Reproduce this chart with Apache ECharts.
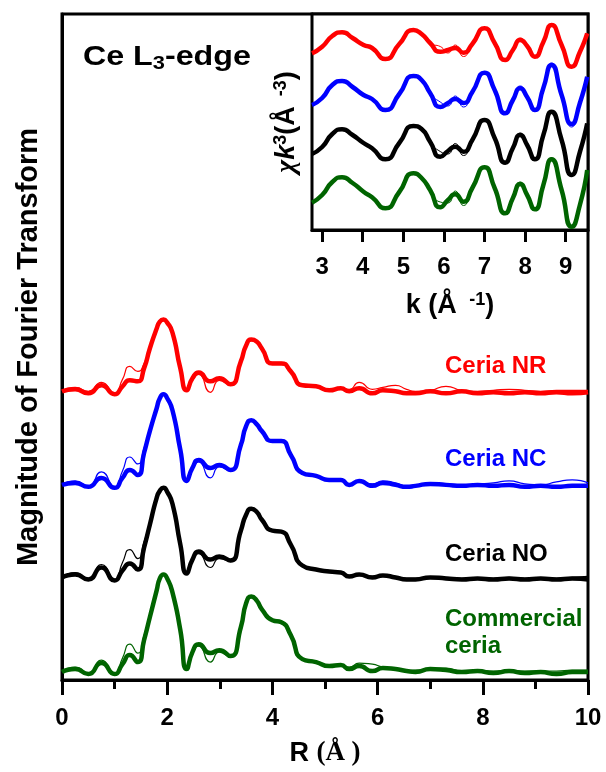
<!DOCTYPE html>
<html>
<head>
<meta charset="utf-8">
<script src="https://cdn.jsdelivr.net/npm/echarts@6/dist/echarts.min.js"></script>
<style>
  html, body { margin: 0; padding: 0; background: #fff; }
  #chart { width: 606px; height: 772px; }
</style>
</head>
<body>
<div id="chart"></div>
<script>
// R grid (Å) for the Fourier transform curves
var rGrid = [0, 0.25, 0.5, 0.75, 1.0, 1.15, 1.29, 1.44, 1.56, 1.67, 1.8, 1.86, 1.93, 2.0, 2.1, 2.25, 2.37, 2.48, 2.6, 2.82,
    2.99, 3.2, 3.4, 3.5, 3.6, 3.7, 3.8, 4.0, 4.17, 4.35, 4.57, 4.83, 5.08, 5.3, 5.46, 5.65, 5.9, 6.1, 6.34, 6.55,
    6.72, 7.0, 7.3, 7.6, 7.9, 8.2, 8.5, 8.8, 9.1, 9.4, 9.7, 10];

// stacked magnitudes (thick and thin line of every sample)
var nrBold = [2.90, 2.92, 2.88, 2.96, 2.87, 2.95, 3.01, 3.00, 3.13, 3.33, 3.53, 3.60, 3.62, 3.59, 3.49, 3.13, 2.91, 3.03, 3.09, 3.00,
    3.03, 2.97, 3.20, 3.36, 3.42, 3.40, 3.33, 3.18, 3.18, 3.10, 2.96, 2.95, 2.91, 2.93, 2.90, 2.93, 2.88, 2.91, 2.90, 2.88,
    2.88, 2.90, 2.88, 2.90, 2.88, 2.89, 2.88, 2.89, 2.88, 2.89, 2.88, 2.89];
var nrThin = [2.90, 2.94, 2.90, 2.99, 2.88, 3.02, 3.15, 3.10, 3.18, 3.34, 3.52, 3.59, 3.61, 3.58, 3.48, 3.12, 2.90, 3.01, 3.07, 2.89,
    3.01, 2.96, 3.19, 3.35, 3.41, 3.39, 3.33, 3.19, 3.19, 3.11, 2.97, 2.96, 2.92, 2.93, 2.92, 2.99, 2.92, 2.94, 2.96, 2.92,
    2.90, 2.91, 2.95, 2.91, 2.90, 2.91, 2.92, 2.91, 2.90, 2.91, 2.91, 2.91];
var ncBold = [1.96, 1.98, 1.94, 2.03, 1.93, 2.03, 2.11, 2.06, 2.28, 2.50, 2.73, 2.83, 2.87, 2.83, 2.71, 2.31, 2.00, 2.13, 2.21, 2.13,
    2.16, 2.11, 2.36, 2.55, 2.61, 2.57, 2.50, 2.40, 2.40, 2.26, 2.08, 2.05, 2.01, 2.01, 1.96, 2.00, 1.95, 1.98, 1.96, 1.94,
    1.95, 1.97, 1.96, 1.95, 1.96, 1.95, 1.96, 1.94, 1.95, 1.94, 1.95, 1.95];
var ncThin = [1.96, 2.00, 1.95, 2.09, 1.94, 2.10, 2.24, 2.17, 2.33, 2.51, 2.72, 2.82, 2.86, 2.82, 2.70, 2.30, 1.99, 2.11, 2.19, 2.03,
    2.14, 2.10, 2.35, 2.54, 2.60, 2.56, 2.50, 2.41, 2.41, 2.27, 2.09, 2.05, 2.02, 2.01, 1.97, 1.99, 1.97, 2.00, 1.98, 1.95,
    1.96, 1.97, 1.97, 1.96, 1.97, 1.98, 2.00, 1.97, 1.96, 1.99, 2.01, 1.98];
var noBold = [1.03, 1.06, 1.01, 1.13, 1.00, 1.10, 1.17, 1.11, 1.33, 1.56, 1.83, 1.90, 1.93, 1.89, 1.77, 1.36, 1.07, 1.21, 1.29, 1.21,
    1.24, 1.20, 1.50, 1.66, 1.72, 1.69, 1.61, 1.50, 1.49, 1.36, 1.15, 1.11, 1.09, 1.08, 1.04, 1.06, 1.03, 1.05, 1.03, 1.01,
    1.01, 1.03, 1.02, 1.01, 1.02, 1.01, 1.02, 1.01, 1.02, 1.01, 1.02, 1.01];
var noThin = [1.03, 1.08, 1.02, 1.16, 1.01, 1.18, 1.31, 1.22, 1.39, 1.57, 1.82, 1.89, 1.92, 1.88, 1.76, 1.35, 1.06, 1.19, 1.27, 1.13,
    1.22, 1.19, 1.49, 1.65, 1.71, 1.68, 1.61, 1.51, 1.50, 1.37, 1.16, 1.12, 1.10, 1.08, 1.05, 1.06, 1.04, 1.05, 1.04, 1.02,
    1.02, 1.03, 1.03, 1.02, 1.02, 1.02, 1.03, 1.02, 1.02, 1.02, 1.03, 1.04];
var coBold = [0.08, 0.11, 0.06, 0.17, 0.06, 0.16, 0.25, 0.18, 0.40, 0.63, 0.90, 1.02, 1.06, 1.02, 0.88, 0.50, 0.11, 0.28, 0.36, 0.27,
    0.30, 0.24, 0.53, 0.77, 0.84, 0.80, 0.71, 0.60, 0.58, 0.45, 0.21, 0.18, 0.14, 0.15, 0.11, 0.14, 0.09, 0.12, 0.11, 0.09,
    0.08, 0.11, 0.10, 0.08, 0.09, 0.07, 0.09, 0.07, 0.08, 0.06, 0.08, 0.08];
var coThin = [0.08, 0.13, 0.07, 0.20, 0.07, 0.22, 0.36, 0.27, 0.45, 0.64, 0.89, 1.01, 1.05, 1.01, 0.87, 0.49, 0.10, 0.26, 0.34, 0.18,
    0.28, 0.23, 0.52, 0.76, 0.83, 0.79, 0.71, 0.61, 0.59, 0.46, 0.22, 0.19, 0.15, 0.15, 0.13, 0.17, 0.16, 0.13, 0.12, 0.10,
    0.10, 0.11, 0.12, 0.09, 0.10, 0.09, 0.10, 0.09, 0.09, 0.09, 0.10, 0.10];

// k grid (1/Å) for the inset
var kGrid = [2.75, 3.0, 3.25, 3.49, 3.75, 4.02, 4.23, 4.56, 4.9, 5.25, 5.45, 5.66, 5.91, 6.1, 6.28, 6.48, 6.7, 7.0, 7.25, 7.51,
    7.7, 7.88, 8.05, 8.24, 8.45, 8.65, 8.9, 9.15, 9.35, 9.53];
var nrK = [17.67, 18.33, 19.4, 19.77, 19.2, 18.5, 18.2, 17.1, 18.6, 20.0, 19.6, 18.7, 17.83, 18.0, 18.2, 17.73, 18.6, 20.17, 18.7, 17.0,
    18.0, 19.0, 18.4, 17.33, 18.8, 20.5, 18.5, 16.33, 17.8, 19.67];
var nrKThin = [17.7, 18.35, 19.45, 19.8, 19.25, 18.55, 18.25, 17.15, 18.6, 20.0, 19.55, 18.6, 18.35, 17.7, 18.5, 17.35, 18.6, 20.15, 18.7, 17.05,
    18.05, 19.2, 18.4, 17.35, 18.8, 20.65, 18.5, 16.4, 17.8, 19.7];
var ncK = [12.5, 13.2, 14.5, 14.9, 14.3, 13.5, 13.1, 12.0, 13.6, 15.4, 15.0, 13.7, 12.3, 12.7, 13.1, 12.7, 13.8, 15.73, 14.0, 11.67,
    13.0, 14.17, 13.3, 12.0, 14.2, 16.5, 13.5, 10.6, 12.7, 15.33];
var ncKThin = [12.55, 13.25, 14.55, 14.95, 14.35, 13.55, 13.15, 12.05, 13.6, 15.4, 14.95, 13.6, 12.8, 12.4, 13.4, 12.3, 13.8, 15.7, 14.0, 11.7,
    13.05, 14.4, 13.3, 12.05, 14.2, 16.7, 13.4, 10.3, 12.7, 15.3];
var noK = [7.6, 8.3, 9.6, 10.07, 9.5, 8.7, 8.17, 7.07, 8.7, 10.4, 10.1, 8.83, 7.33, 7.9, 8.33, 7.83, 9.0, 11.0, 9.2, 6.73,
    8.2, 9.5, 8.5, 7.07, 9.5, 11.83, 9.0, 5.5, 7.8, 10.67];
var noKThin = [7.65, 8.35, 9.65, 10.1, 9.55, 8.75, 8.2, 7.1, 8.7, 10.4, 10.05, 8.75, 7.85, 7.6, 8.65, 7.45, 9.0, 11.0, 9.2, 6.75,
    8.25, 9.7, 8.5, 7.1, 9.5, 11.95, 9.0, 5.55, 7.8, 10.65];
var coK = [2.73, 3.5, 4.8, 5.27, 4.7, 3.83, 3.27, 2.17, 3.8, 5.67, 5.2, 4.0, 2.27, 3.0, 3.57, 2.83, 4.2, 6.27, 4.2, 1.67,
    3.2, 4.6, 3.5, 2.07, 4.5, 7.07, 4.0, 0.33, 2.5, 6.0];
var coKThin = [2.78, 3.55, 4.85, 5.3, 4.75, 3.88, 3.3, 2.2, 3.8, 5.55, 5.25, 3.95, 2.8, 2.7, 3.9, 2.45, 4.2, 6.2, 4.2, 1.7,
    3.25, 4.8, 3.5, 2.1, 4.5, 7.2, 4.0, 0.4, 2.5, 5.95];

var kTicks = [3, 4, 5, 6, 7, 8, 9];
var sampleNames = ['Ceria NR', 'Ceria NC', 'Ceria NO', 'Commercial\nceria'];
var sampleColors = ['#ff0000', '#0000ff', '#000000', '#006400'];

var SANS = 'Liberation Sans, Arial, sans-serif';
var SERIF = 'Liberation Serif, Times New Roman, serif';

function curve(xs, ys, color, width, axis) {
    return {
        type: 'line',
        xAxisIndex: axis, yAxisIndex: axis,
        data: xs.map(function(x, i) { return [x, ys[i]]; }),
        smooth: 0.6, symbol: 'none', silent: true,
        lineStyle: { color: color, width: width }
    };
}

var series = [];
var rSets = [[nrBold, nrThin], [ncBold, ncThin], [noBold, noThin], [coBold, coThin]];
var kSets = [[nrK, nrKThin], [ncK, ncKThin], [noK, noKThin], [coK, coKThin]];
rSets.forEach(function(s, i) {
    series.push(curve(rGrid, s[1], sampleColors[i], 1.2, 0));
    series.push(curve(rGrid, s[0], sampleColors[i], 4.5, 0));
});
kSets.forEach(function(s, i) {
    series.push(curve(kGrid, s[1], sampleColors[i], 1, 1));
    series.push(curve(kGrid, s[0], sampleColors[i], 4.5, 1));
});

var labelTops = [353, 446, 541, 606];
var graphics = sampleNames.map(function(name, i) {
    return {
        type: 'text', left: 445, top: labelTops[i], silent: true,
        style: { text: name, fill: sampleColors[i], font: 'bold 24px ' + SANS, lineHeight: 27 }
    };
});
graphics.push({
    type: 'text', x: 83, y: 41, scaleX: 1.15, silent: true,
    style: {
        text: '{a|Ce L}{s|3}{a|-edge}',
        rich: {
            a: { fontSize: 28, fontWeight: 'bold', fontFamily: SANS, lineHeight: 32, fill: '#000' },
            s: { fontSize: 19, fontWeight: 'bold', fontFamily: SANS, lineHeight: 19, verticalAlign: 'bottom', fill: '#000' }
        }
    }
});

var option = {
    animation: false,
    backgroundColor: '#fff',
    grid: [
        { left: 62, top: 14, width: 526, height: 669, show: true, borderColor: '#000', borderWidth: 3 },
        { left: 312, top: 14, width: 276, height: 216, show: true, borderColor: '#000', borderWidth: 3, backgroundColor: '#fff', z: 3 }
    ],
    xAxis: [{
        gridIndex: 0, type: 'value', min: 0, max: 10, interval: 2,
        axisLine: { onZero: false, lineStyle: { color: '#000', width: 3 } },
        axisTick: { length: 15, lineStyle: { color: '#000', width: 3 } },
        minorTick: { show: true, splitNumber: 2, length: 9, lineStyle: { color: '#000', width: 3 } },
        splitLine: { show: false },
        axisLabel: { margin: 26, color: '#000', fontSize: 24, fontWeight: 'bold', fontFamily: SANS },
        name: '{b|R }{s|(Å )}', nameLocation: 'middle', nameGap: 60,
        nameTextStyle: {
            rich: {
                b: { fontSize: 27, fontWeight: 'bold', fontFamily: SANS, color: '#000' },
                s: { fontSize: 27, fontWeight: 'bold', fontFamily: SERIF, color: '#000' }
            }
        }
    }, {
        gridIndex: 1, type: 'value', min: 2.75, max: 9.55,
        axisLine: { onZero: false, lineStyle: { color: '#000', width: 3 } },
        axisTick: { length: 12, customValues: kTicks, lineStyle: { color: '#000', width: 3 } },
        splitLine: { show: false },
        axisLabel: { margin: 25, customValues: kTicks, color: '#000', fontSize: 24, fontWeight: 'bold', fontFamily: SANS },
        name: '{b|k (Å }{sup| -1}{b|)}', nameLocation: 'middle', nameGap: 61,
        nameTextStyle: {
            rich: {
                b: { fontSize: 27, fontWeight: 'bold', fontFamily: SANS, color: '#000', lineHeight: 30 },
                sup: { fontSize: 18, fontWeight: 'bold', fontFamily: SANS, color: '#000', lineHeight: 18, verticalAlign: 'top' }
            }
        }
    }],
    yAxis: [{
        gridIndex: 0, type: 'value', min: 0, max: 6.69,
        axisLine: { show: true, lineStyle: { color: '#000', width: 3 } },
        axisTick: { show: false }, axisLabel: { show: false }, splitLine: { show: false },
        name: 'Magnitude of Fourier Transform', nameLocation: 'middle', nameGap: 19,
        nameTextStyle: { fontSize: 29, fontWeight: 'bold', fontFamily: SANS, color: '#000' }
    }, {
        gridIndex: 1, type: 'value', min: 0, max: 21.6,
        axisLine: { show: true, lineStyle: { color: '#000', width: 3 } },
        axisTick: { show: false }, axisLabel: { show: false }, splitLine: { show: false },
        name: '{gr|χ}{ik|k}{sup|3}{b|(Å}{sup|  -3}{b|)}', nameLocation: 'middle', nameGap: 10,
        nameTextStyle: {
            rich: {
                gr: { fontSize: 28, fontWeight: 'bold', fontStyle: 'italic', fontFamily: SERIF, color: '#000', lineHeight: 30 },
                ik: { fontSize: 27, fontWeight: 'bold', fontStyle: 'italic', fontFamily: SANS, color: '#000', lineHeight: 30 },
                b: { fontSize: 27, fontWeight: 'bold', fontFamily: SANS, color: '#000', lineHeight: 30 },
                sup: { fontSize: 18, fontWeight: 'bold', fontFamily: SANS, color: '#000', lineHeight: 18, verticalAlign: 'top' }
            }
        }
    }],
    series: series,
    graphic: graphics
};

var chart = echarts.init(document.getElementById('chart'));
chart.setOption(option);
</script>
</body>
</html>
